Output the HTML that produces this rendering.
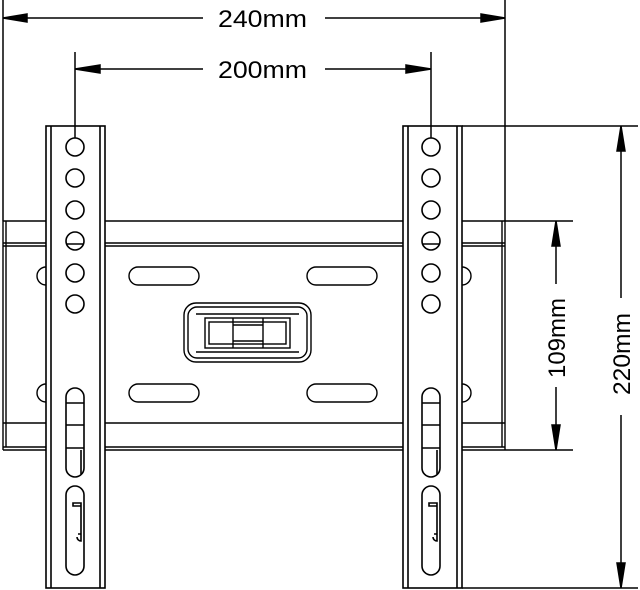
<!DOCTYPE html>
<html><head><style>body{margin:0;background:#fff}svg{display:block}text{font-family:"Liberation Sans",sans-serif;font-size:24px;fill:#000}</style></head><body>
<svg width="640" height="590" viewBox="0 0 640 590" xmlns="http://www.w3.org/2000/svg" fill="none" stroke="#000" stroke-width="1.5">
<line x1="3" y1="0" x2="3" y2="221"/>
<line x1="505" y1="0" x2="505" y2="221"/>
<line x1="3" y1="18" x2="203" y2="18"/><line x1="325" y1="18" x2="505" y2="18"/>
<polygon points="3,18 27,14 27,22" fill="#000"/><polygon points="505,18 481,14 481,22" fill="#000"/>
<text x="218" y="27" textLength="89" lengthAdjust="spacingAndGlyphs" stroke="none">240mm</text>
<line x1="75" y1="69" x2="203" y2="69"/><line x1="325" y1="69" x2="431" y2="69"/>
<polygon points="75,69 100,65 100,73" fill="#000"/><polygon points="431,69 406,65 406,73" fill="#000"/>
<text x="218" y="78" textLength="89" lengthAdjust="spacingAndGlyphs" stroke="none">200mm</text>
<line x1="462" y1="126" x2="638" y2="126"/><line x1="462" y1="588" x2="638" y2="588"/>
<line x1="505" y1="221" x2="573" y2="221"/><line x1="505" y1="450" x2="573" y2="450"/>
<line x1="556" y1="221" x2="556" y2="284"/><line x1="556" y1="387" x2="556" y2="450"/>
<polygon points="556,221 552,246 560,246" fill="#000"/><polygon points="556,450 552,425 560,425" fill="#000"/>
<text transform="translate(565,378) rotate(-90)" textLength="80" lengthAdjust="spacingAndGlyphs" stroke="none">109mm</text>
<line x1="621" y1="126" x2="621" y2="298"/><line x1="621" y1="415" x2="621" y2="588"/>
<polygon points="621,126 617,151 625,151" fill="#000"/><polygon points="621,588 617,563 625,563" fill="#000"/>
<text transform="translate(630,395) rotate(-90)" textLength="82" lengthAdjust="spacingAndGlyphs" stroke="none">220mm</text>
<g stroke-width="1.4">
<line x1="3" y1="221" x2="505" y2="221"/>
<line x1="3" y1="243" x2="505" y2="243"/><line x1="3" y1="246" x2="505" y2="246"/>
<line x1="3" y1="423" x2="505" y2="423"/>
<line x1="3" y1="447" x2="505" y2="447"/><line x1="3" y1="450" x2="505" y2="450"/>
<line x1="3" y1="221" x2="3" y2="450"/><line x1="6" y1="221" x2="6" y2="447"/>
<line x1="505" y1="221" x2="505" y2="450"/><line x1="502" y1="221" x2="502" y2="447"/>
<rect x="129" y="267" width="70" height="18" rx="9"/><rect x="307" y="267" width="70" height="18" rx="9"/>
<rect x="129" y="384" width="70" height="18" rx="9"/><rect x="307" y="384" width="70" height="18" rx="9"/>
<path d="M46,267 A9,9 0 0 0 46,285"/><path d="M46,384 A9,9 0 0 0 46,402"/>
<path d="M462,267 A9,9 0 0 1 462,285"/><path d="M462,384 A9,9 0 0 1 462,402"/>
<rect x="184" y="303" width="127" height="59" rx="12"/>
<rect x="188" y="307" width="119" height="51" rx="9"/>
<line x1="196" y1="314" x2="299" y2="314"/><line x1="196" y1="352" x2="299" y2="352"/>
<rect x="205" y="318" width="85" height="30"/>
<rect x="209" y="322" width="77" height="22"/>
<line x1="233" y1="318" x2="233" y2="348"/><line x1="263" y1="318" x2="263" y2="348"/>
<line x1="233" y1="325" x2="263" y2="325"/><line x1="233" y1="341" x2="263" y2="341"/>
</g>
<g stroke-width="1.6">
<rect x="46" y="126" width="59" height="462" fill="#fff"/>
<line x1="51" y1="126" x2="51" y2="588"/><line x1="100" y1="126" x2="100" y2="588"/>
<rect x="403" y="126" width="59" height="462" fill="#fff"/>
<line x1="408" y1="126" x2="408" y2="588"/><line x1="457" y1="126" x2="457" y2="588"/>
<g id="holes">
<circle cx="75" cy="147" r="9"/><circle cx="75" cy="178" r="9"/><circle cx="75" cy="210" r="9"/>
<circle cx="75" cy="241" r="9"/><line x1="66" y1="244" x2="84" y2="244"/>
<circle cx="75" cy="273" r="9"/><circle cx="75" cy="304" r="9"/>
<rect x="66" y="388" width="18" height="89" rx="9"/>
<line x1="66" y1="403" x2="84" y2="403"/><line x1="66" y1="425" x2="84" y2="425"/><line x1="66" y1="448" x2="84" y2="448"/>
<line x1="81" y1="450" x2="81" y2="474"/>
<rect x="66" y="486" width="18" height="89" rx="9"/>
<path d="M73,503 h8 v3 h-8 z M81,506 v28 M78,534 h3 v7 a4,4 0 0 1 -4,-4"/>
</g>
<use href="#holes" x="356"/>
</g>
<line x1="75" y1="52" x2="75" y2="138"/><line x1="431" y1="52" x2="431" y2="138"/>
</svg>
</body></html>
